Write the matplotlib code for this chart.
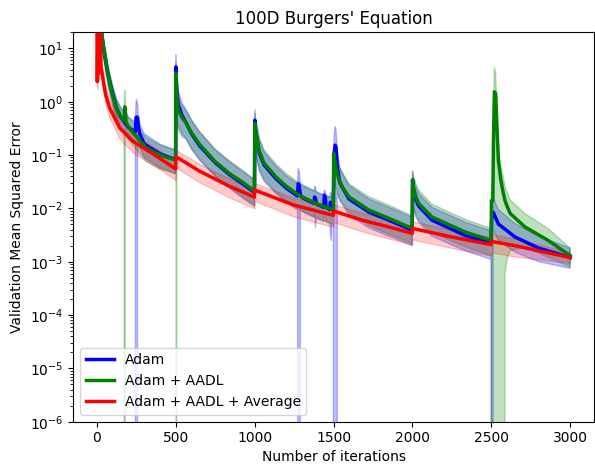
import numpy as np
import matplotlib
matplotlib.use("Agg")
import matplotlib.pyplot as plt

# ---------------- data ----------------
labels = ["Adam", "Adam + AADL", "Adam + AADL + Average"]
colors = ["blue", "green", "red"]

adam_iters = [0, 28, 40, 71, 100, 124, 150, 200, 244, 248, 252, 258, 264, 272, 300, 400, 499,
              501, 505, 515, 540, 566, 600, 650, 750, 840, 930, 999,
              1001, 1005, 1015, 1029, 1060, 1135, 1200, 1272, 1276, 1282, 1290, 1300,
              1375, 1380, 1386, 1392, 1438, 1442, 1448, 1452, 1476, 1480, 1486, 1490, 1499,
              1503, 1510, 1516, 1524, 1540, 1598, 1724, 1851, 1999,
              2001, 2005, 2020, 2040, 2124, 2335, 2499,
              2502, 2512, 2520, 2545, 2651, 2800, 3000]
adam_mean = [300, 20, 11, 3.2, 1.4, 0.78, 0.52, 0.33, 0.27, 0.5, 0.52, 0.5, 0.33, 0.25, 0.16, 0.105, 0.082,
             4.5, 2.0, 0.9, 0.55, 0.4, 0.25, 0.15, 0.072, 0.043, 0.028, 0.02,
             0.45, 0.3, 0.2, 0.11, 0.065, 0.036, 0.024, 0.017, 0.029, 0.027, 0.018, 0.016,
             0.0125, 0.0164, 0.015, 0.012, 0.0105, 0.0177, 0.016, 0.0105, 0.0095, 0.013, 0.012, 0.0095, 0.009,
             0.1, 0.153, 0.14, 0.06, 0.03, 0.015, 0.0085, 0.006, 0.0039,
             0.034, 0.025, 0.015, 0.011, 0.006, 0.0031, 0.0022,
             0.006, 0.0085, 0.0075, 0.0051, 0.0029, 0.0018, 0.0012]
adam_low = [150, 13, 7, 2.0, 0.9, 0.5, 0.33, 0.2, 0.16, 0, 0, 0.25, 0.18, 0.14, 0.09, 0.058, 0.045,
            1.5, 0.6, 0.35, 0.25, 0.2, 0.13, 0.08, 0.04, 0.024, 0.015, 0.011,
            0.2, 0.12, 0.08, 0.05, 0.032, 0.019, 0.013, 0.0093, 0, 0, 0.0095, 0.0087,
            0.0068, 0.008, 0.0044, 0.0065, 0.0057, 0.009, 0.007, 0.0057, 0.0052, 0.0035, 0.0025, 0.005, 0.0049,
            0, 0, 0, 0.02, 0.014, 0.0075, 0.0043, 0.003, 0.002,
            0.015, 0.011, 0.007, 0.0055, 0.003, 0.0016, 0.0011,
            0, 0.004, 0.0035, 0.0025, 0.0015, 0.001, 0.00075]
adam_high = [500, 30, 16, 4.6, 2.0, 1.15, 0.78, 0.5, 0.42, 1.0, 1.1, 0.9, 0.5, 0.38, 0.25, 0.16, 0.125,
             7.6, 3.5, 1.6, 0.95, 0.7, 0.45, 0.27, 0.125, 0.075, 0.048, 0.034,
             0.7, 0.5, 0.35, 0.2, 0.115, 0.062, 0.041, 0.029, 0.056, 0.05, 0.03, 0.027,
             0.021, 0.026, 0.025, 0.02, 0.0175, 0.022, 0.021, 0.0175, 0.016, 0.02, 0.019, 0.016, 0.015,
             0.22, 0.34, 0.3, 0.12, 0.058, 0.027, 0.015, 0.0105, 0.0068,
             0.049, 0.04, 0.026, 0.019, 0.0105, 0.0055, 0.0038,
             0.011, 0.016, 0.014, 0.0095, 0.0052, 0.003, 0.0018]

aadl_iters = [0, 30, 40, 71, 100, 124, 150, 172, 175, 177, 180, 185, 195, 230, 314, 400, 499,
              501, 503, 507, 515, 540, 566, 600, 650, 750, 840, 930, 999,
              1001, 1005, 1015, 1029, 1060, 1135, 1200, 1282, 1400, 1499,
              1501, 1505, 1515, 1535, 1560, 1598, 1724, 1851, 1999,
              2001, 2005, 2020, 2040, 2124, 2335, 2499,
              2501, 2510, 2514, 2520, 2528, 2535, 2545, 2560, 2575, 2587, 2600, 2620, 2713, 2861, 3000]
aadl_mean = [300, 20, 11.6, 3.2, 1.3, 0.75, 0.52, 0.44, 0.6, 0.8, 0.65, 0.42, 0.36, 0.26, 0.135, 0.1, 0.08,
             3.4, 2.5, 1.2, 0.7, 0.5, 0.4, 0.26, 0.16, 0.075, 0.045, 0.03, 0.021,
             0.39, 0.3, 0.2, 0.12, 0.07, 0.039, 0.026, 0.0175, 0.012, 0.0093,
             0.107, 0.09, 0.055, 0.034, 0.024, 0.0164, 0.0093, 0.0065, 0.0042,
             0.034, 0.026, 0.017, 0.0123, 0.0069, 0.0036, 0.0025,
             0.014, 0.014, 0.2, 1.54, 1.4, 0.4, 0.08, 0.035, 0.02, 0.014, 0.011, 0.008, 0.0045, 0.0025, 0.0013]
aadl_low = [150, 13, 7.5, 2.0, 0.8, 0.47, 0.32, 0.26, 0, 0, 0.3, 0.24, 0.2, 0.15, 0.075, 0.055, 0.044,
            1.2, 0, 0.4, 0.3, 0.22, 0.2, 0.13, 0.085, 0.04, 0.025, 0.016, 0.0115,
            0.17, 0.12, 0.085, 0.055, 0.035, 0.02, 0.014, 0.0095, 0.0065, 0.005,
            0.04, 0.035, 0.024, 0.016, 0.012, 0.0085, 0.0048, 0.0033, 0.0022,
            0.015, 0.011, 0.008, 0.006, 0.0035, 0.0019, 0.0013,
            0, 0, 0, 0, 0, 0, 0, 0, 0, 0.0006, 0.0011, 0.0016, 0.0019, 0.0012, 0.0008]
aadl_high = [500, 30, 17, 4.6, 1.9, 1.1, 0.78, 0.66, 1.3, 1.66, 1.2, 0.65, 0.56, 0.4, 0.21, 0.155, 0.12,
             5.5, 4.5, 2.2, 1.2, 0.85, 0.68, 0.45, 0.28, 0.13, 0.078, 0.05, 0.035,
             0.6, 0.5, 0.35, 0.21, 0.125, 0.068, 0.045, 0.03, 0.02, 0.0155,
             0.16, 0.15, 0.1, 0.062, 0.043, 0.029, 0.0165, 0.0115, 0.0073,
             0.05, 0.042, 0.03, 0.022, 0.012, 0.0062, 0.0042,
             0.028, 0.03, 0.5, 4.3, 3.5, 0.9, 0.14, 0.065, 0.04, 0.026, 0.02, 0.0145, 0.008, 0.0042, 0.0018]

avg_iters = [0, 1, 4, 6, 10, 12, 16, 18, 22, 26, 36, 45, 57, 82, 145, 230, 356, 499,
             501, 650, 840, 999, 1001, 1100, 1250, 1499, 1501, 1682, 1850, 1999,
             2001, 2251, 2499, 2501, 2651, 2800, 3000]
avg_mean = [300, 2.4, 2.4, 20, 20, 3.5, 3.5, 20, 20, 4.5, 3.0, 2.0, 1.3, 0.75, 0.32, 0.18, 0.105, 0.055,
            0.093, 0.05, 0.026, 0.0163, 0.022, 0.017, 0.0115, 0.0074, 0.0089, 0.006, 0.0045, 0.0034,
            0.0042, 0.0029, 0.0021, 0.0024, 0.002, 0.0016, 0.0012]
avg_low = [150, 1.8, 1.8, 15, 15, 2.6, 2.6, 15, 15, 3.2, 2.1, 1.4, 0.85, 0.48, 0.2, 0.11, 0.065, 0.034,
           0.058, 0.031, 0.016, 0.01, 0.0135, 0.0105, 0.007, 0.0045, 0.0055, 0.0037, 0.0027, 0.0021,
           0.0026, 0.0018, 0.0013, 0.0015, 0.00125, 0.0011, 0.00095]
avg_high = [500, 3.2, 3.2, 27, 27, 4.6, 4.6, 27, 27, 6, 4.0, 2.7, 1.8, 1.05, 0.45, 0.25, 0.145, 0.077,
            0.125, 0.068, 0.036, 0.0225, 0.03, 0.023, 0.0158, 0.0102, 0.012, 0.0082, 0.0062, 0.0047,
            0.0057, 0.004, 0.0029, 0.0033, 0.0027, 0.0021, 0.0015]

xticks = [0, 500, 1000, 1500, 2000, 2500, 3000]

series = [(adam_iters, adam_mean, adam_low, adam_high),
          (aadl_iters, aadl_mean, aadl_low, aadl_high),
          (avg_iters, avg_mean, avg_low, avg_high)]
band_alpha = [0.25, 0.25, 0.2]

# ---------------- plot ----------------
fig = plt.figure(figsize=(5.95, 4.65), dpi=100)
ax = fig.add_axes([0.1231, 0.0931, 0.998 - 0.1231, 0.9305 - 0.0931])
ax.set_yscale("log")

for (it, m, lo, hi), c, lab, a in zip(series, colors, labels, band_alpha):
    ax.fill_between(it, lo, hi, color=c, alpha=a)
    ax.plot(it, m, color=c, lw=2.5, label=lab)

ax.set_ylim(1e-6, 20)
ax.set_xlim(-150, 3150)
ax.set_xticks(xticks)
ax.set_title("100D Burgers' Equation", fontsize=12)
ax.set_xlabel("Number of iterations", labelpad=3)
ax.set_ylabel("Validation Mean Squared Error")
ax.legend(loc="lower left")

fig.savefig("out.png", dpi=100)
